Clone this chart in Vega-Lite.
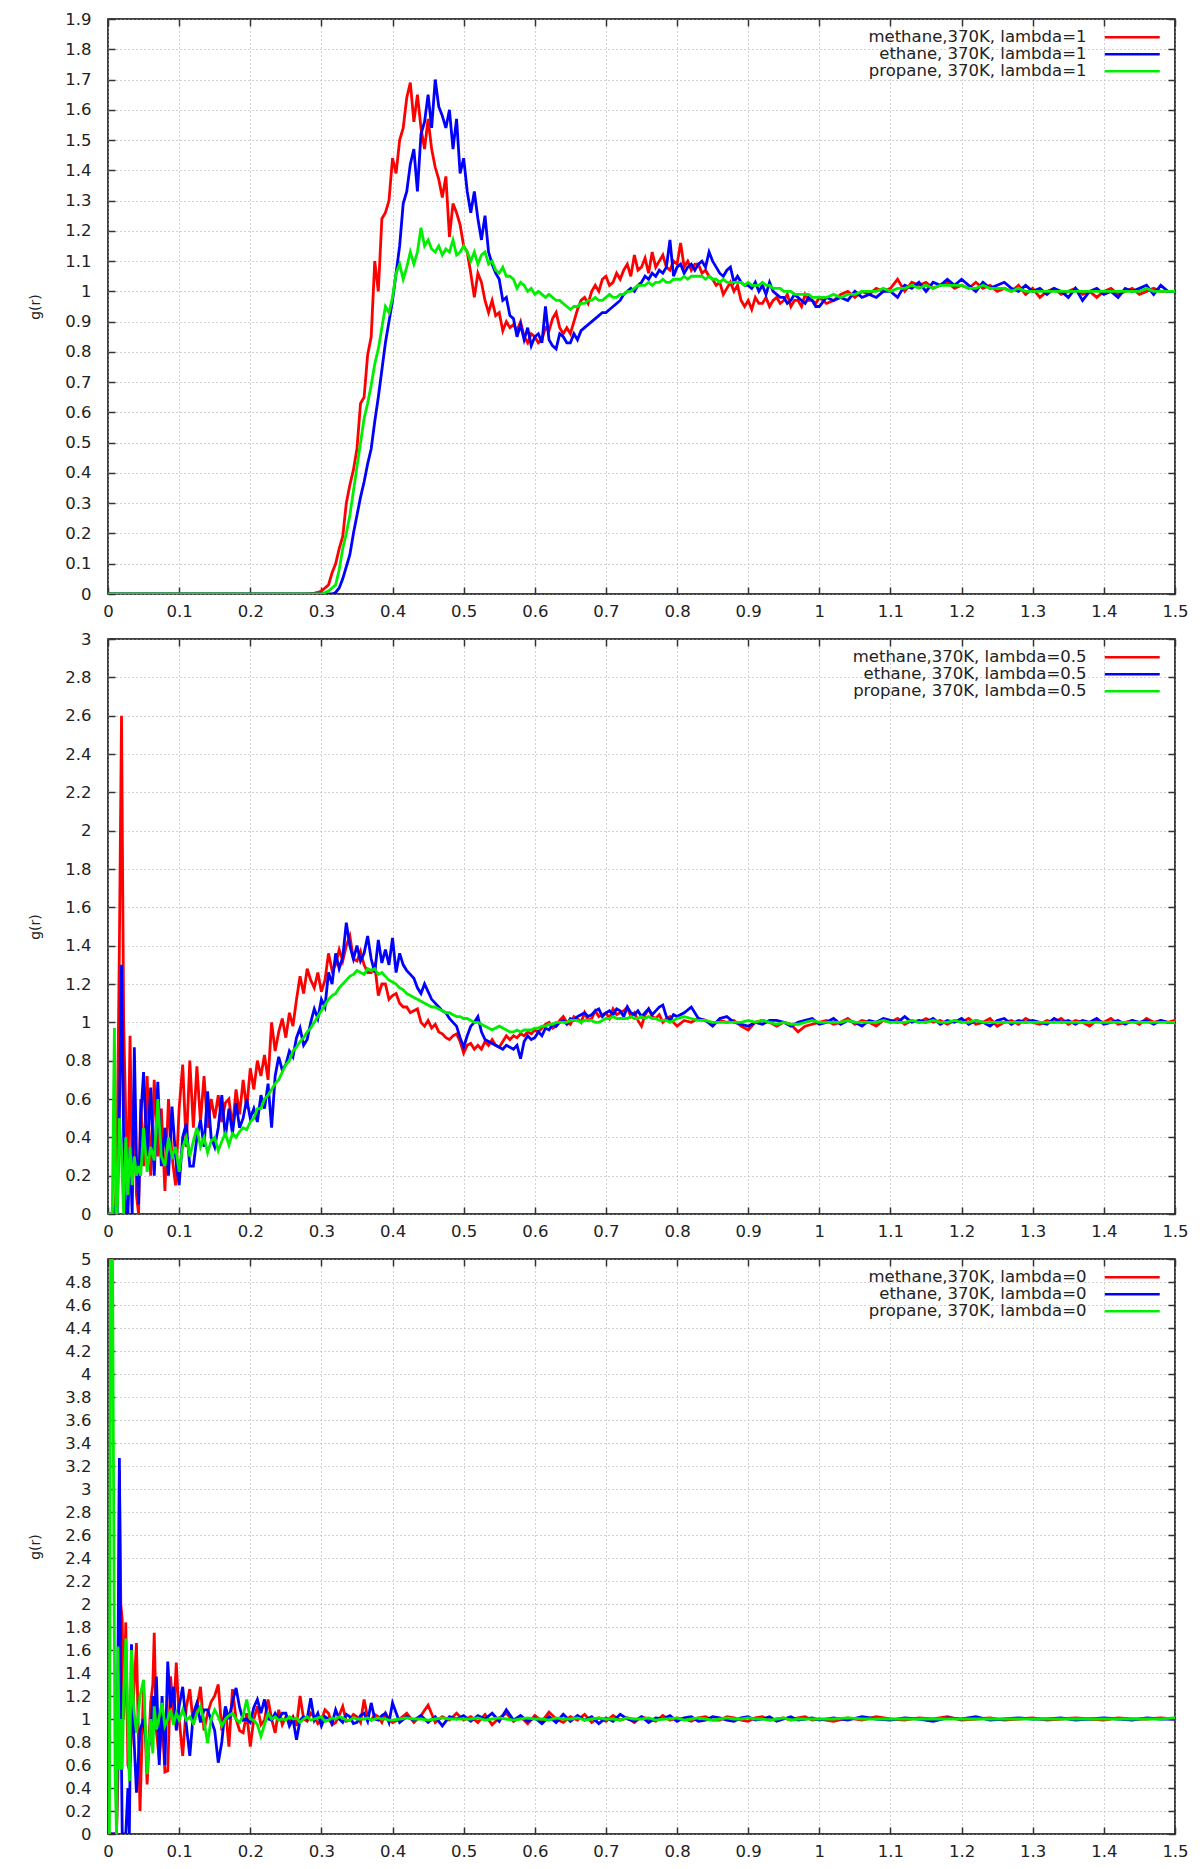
{
"$schema": "https://vega.github.io/schema/vega-lite/v6.json",
"background": "white",
"padding": {"left": 28, "top": 10, "right": 0, "bottom": 0},
"autosize": {"type": "pad"},
"spacing": 45,
"bounds": "flush",
"config": {"view": {"stroke": "#000000", "strokeWidth": 1.5}, "font": "DejaVu Sans"},
"resolve": {"scale": {"color": "independent"}},
"datasets": {
"p1": [
{"x":0,"m":0,"e":0,"p":0},{"x":0.28,"m":0,"e":0,"p":0},{"x":0.29,"m":0.003,"e":0,"p":0},{"x":0.295,"m":0.005,"e":0,"p":0},{"x":0.3,"m":0.01,"e":0,"p":0},
{"x":0.305,"m":0.02,"e":0,"p":0.005},{"x":0.31,"m":0.03,"e":0,"p":0.01},{"x":0.315,"m":0.07,"e":0,"p":0.02},{"x":0.32,"m":0.1,"e":0.005,"p":0.03},
{"x":0.325,"m":0.15,"e":0.02,"p":0.08},{"x":0.33,"m":0.19,"e":0.05,"p":0.15},{"x":0.335,"m":0.3,"e":0.09,"p":0.2},{"x":0.34,"m":0.36,"e":0.13,"p":0.26},
{"x":0.345,"m":0.41,"e":0.2,"p":0.34},{"x":0.35,"m":0.48,"e":0.26,"p":0.42},{"x":0.355,"m":0.63,"e":0.32,"p":0.5},{"x":0.36,"m":0.65,"e":0.37,"p":0.58},
{"x":0.365,"m":0.79,"e":0.43,"p":0.63},{"x":0.37,"m":0.85,"e":0.48,"p":0.69},{"x":0.375,"m":1.1,"e":0.57,"p":0.76},{"x":0.38,"m":1.0,"e":0.65,"p":0.81},
{"x":0.385,"m":1.24,"e":0.74,"p":0.88},{"x":0.39,"m":1.26,"e":0.83,"p":0.95},{"x":0.395,"m":1.3,"e":0.9,"p":0.93},{"x":0.4,"m":1.44,"e":0.97,"p":0.98},
{"x":0.405,"m":1.39,"e":1.06,"p":1.06},{"x":0.41,"m":1.5,"e":1.15,"p":1.09},{"x":0.415,"m":1.54,"e":1.29,"p":1.04},{"x":0.42,"m":1.64,"e":1.33,"p":1.08},
{"x":0.425,"m":1.69,"e":1.42,"p":1.13},{"x":0.43,"m":1.56,"e":1.47,"p":1.09},{"x":0.435,"m":1.65,"e":1.33,"p":1.13},{"x":0.44,"m":1.54,"e":1.52,"p":1.21},
{"x":0.445,"m":1.47,"e":1.56,"p":1.15},{"x":0.45,"m":1.57,"e":1.65,"p":1.17},{"x":0.455,"m":1.47,"e":1.54,"p":1.14},{"x":0.46,"m":1.41,"e":1.7,"p":1.13},
{"x":0.465,"m":1.37,"e":1.61,"p":1.15},{"x":0.47,"m":1.31,"e":1.58,"p":1.12},{"x":0.475,"m":1.38,"e":1.54,"p":1.14},{"x":0.48,"m":1.18,"e":1.6,"p":1.13},
{"x":0.485,"m":1.29,"e":1.47,"p":1.17},{"x":0.49,"m":1.26,"e":1.57,"p":1.12},{"x":0.495,"m":1.22,"e":1.39,"p":1.13},{"x":0.5,"m":1.15,"e":1.44,"p":1.15},
{"x":0.505,"m":1.13,"e":1.33,"p":1.13},{"x":0.51,"m":1.06,"e":1.26,"p":1.1},{"x":0.515,"m":0.98,"e":1.33,"p":1.13},{"x":0.52,"m":1.06,"e":1.24,"p":1.09},
{"x":0.525,"m":1.03,"e":1.17,"p":1.12},{"x":0.53,"m":0.97,"e":1.25,"p":1.13},{"x":0.535,"m":0.93,"e":1.13,"p":1.09},{"x":0.54,"m":0.97,"e":1.09,"p":1.1},
{"x":0.545,"m":0.92,"e":1.06,"p":1.07},{"x":0.55,"m":0.93,"e":1.04,"p":1.06},{"x":0.555,"m":0.87,"e":0.97,"p":1.08},{"x":0.56,"m":0.9,"e":0.98,"p":1.05},
{"x":0.565,"m":0.88,"e":0.92,"p":1.05},{"x":0.57,"m":0.89,"e":0.91,"p":1.04},{"x":0.575,"m":0.87,"e":0.85,"p":1.01},{"x":0.58,"m":0.9,"e":0.89,"p":1.03},
{"x":0.585,"m":0.85,"e":0.84,"p":1.02},{"x":0.59,"m":0.83,"e":0.88,"p":1.0},{"x":0.595,"m":0.86,"e":0.82,"p":1.01},{"x":0.6,"m":0.85,"e":0.85,"p":0.99},
{"x":0.605,"m":0.83,"e":0.86,"p":1.0},{"x":0.61,"m":0.84,"e":0.83,"p":0.99},{"x":0.615,"m":0.88,"e":0.95,"p":0.98},{"x":0.62,"m":0.87,"e":0.84,"p":0.99},
{"x":0.625,"m":0.91,"e":0.82,"p":0.98},{"x":0.63,"m":0.93,"e":0.81,"p":0.97},{"x":0.635,"m":0.88,"e":0.86,"p":0.97},{"x":0.64,"m":0.86,"e":0.85,"p":0.96},
{"x":0.645,"m":0.88,"e":0.83,"p":0.95},{"x":0.65,"m":0.86,"e":0.83,"p":0.94},{"x":0.655,"m":0.9,"e":0.86,"p":0.95},{"x":0.66,"m":0.94,"e":0.84,"p":0.95},
{"x":0.665,"m":0.97,"e":0.87,"p":0.96},{"x":0.67,"m":0.98,"e":0.88,"p":0.96},{"x":0.675,"m":0.96,"e":0.89,"p":0.97},{"x":0.68,"m":1.0,"e":0.9,"p":0.97},
{"x":0.685,"m":1.02,"e":0.91,"p":0.98},{"x":0.69,"m":1.0,"e":0.92,"p":0.97},{"x":0.695,"m":1.04,"e":0.93,"p":0.97},{"x":0.7,"m":1.05,"e":0.93,"p":0.98},
{"x":0.705,"m":1.02,"e":0.94,"p":0.99},{"x":0.71,"m":1.03,"e":0.95,"p":0.98},{"x":0.715,"m":1.06,"e":0.96,"p":0.98},{"x":0.72,"m":1.04,"e":0.97,"p":0.99},
{"x":0.725,"m":1.07,"e":0.99,"p":0.99},{"x":0.73,"m":1.09,"e":1.0,"p":1.0},{"x":0.735,"m":1.05,"e":1.01,"p":1.0},{"x":0.74,"m":1.12,"e":1.0,"p":1.01},
{"x":0.745,"m":1.07,"e":1.02,"p":1.02},{"x":0.75,"m":1.08,"e":1.03,"p":1.02},{"x":0.755,"m":1.11,"e":1.05,"p":1.02},{"x":0.76,"m":1.06,"e":1.04,"p":1.03},
{"x":0.765,"m":1.13,"e":1.06,"p":1.02},{"x":0.77,"m":1.08,"e":1.05,"p":1.03},{"x":0.775,"m":1.1,"e":1.07,"p":1.03},{"x":0.78,"m":1.12,"e":1.06,"p":1.04},
{"x":0.785,"m":1.08,"e":1.08,"p":1.03},{"x":0.79,"m":1.07,"e":1.17,"p":1.03},{"x":0.795,"m":1.1,"e":1.05,"p":1.04},{"x":0.8,"m":1.09,"e":1.08,"p":1.04},
{"x":0.805,"m":1.16,"e":1.09,"p":1.04},{"x":0.81,"m":1.08,"e":1.06,"p":1.05},{"x":0.815,"m":1.1,"e":1.08,"p":1.04},{"x":0.82,"m":1.07,"e":1.09,"p":1.05},
{"x":0.825,"m":1.09,"e":1.07,"p":1.05},{"x":0.83,"m":1.09,"e":1.09,"p":1.05},{"x":0.835,"m":1.06,"e":1.1,"p":1.05},{"x":0.84,"m":1.07,"e":1.08,"p":1.04},
{"x":0.845,"m":1.05,"e":1.13,"p":1.05},{"x":0.85,"m":1.04,"e":1.1,"p":1.04},{"x":0.855,"m":1.02,"e":1.08,"p":1.04},{"x":0.86,"m":1.03,"e":1.06,"p":1.03},
{"x":0.865,"m":0.99,"e":1.05,"p":1.04},{"x":0.87,"m":1.01,"e":1.07,"p":1.03},{"x":0.875,"m":1.03,"e":1.08,"p":1.03},{"x":0.88,"m":1.0,"e":1.03,"p":1.03},
{"x":0.885,"m":1.02,"e":1.05,"p":1.03},{"x":0.89,"m":0.97,"e":1.03,"p":1.03},{"x":0.895,"m":0.95,"e":1.02,"p":1.02},{"x":0.9,"m":0.97,"e":1.02,"p":1.03},
{"x":0.905,"m":0.94,"e":1.01,"p":1.02},{"x":0.91,"m":0.98,"e":1.03,"p":1.02},{"x":0.915,"m":0.96,"e":1.0,"p":1.02},{"x":0.92,"m":0.96,"e":1.02,"p":1.03},
{"x":0.925,"m":0.98,"e":0.99,"p":1.02},{"x":0.93,"m":0.95,"e":1.03,"p":1.02},{"x":0.935,"m":0.97,"e":1.0,"p":1.01},{"x":0.94,"m":0.98,"e":0.99,"p":1.01},
{"x":0.945,"m":0.96,"e":0.98,"p":1.01},{"x":0.95,"m":0.97,"e":0.98,"p":1.0},{"x":0.955,"m":0.99,"e":0.96,"p":1.0},{"x":0.96,"m":0.95,"e":0.97,"p":1.0},
{"x":0.965,"m":0.97,"e":0.99,"p":0.99},{"x":0.97,"m":0.97,"e":0.98,"p":0.99},{"x":0.975,"m":0.95,"e":0.97,"p":0.99},{"x":0.98,"m":0.99,"e":0.96,"p":0.99},
{"x":0.985,"m":0.97,"e":0.98,"p":0.99},{"x":0.99,"m":0.97,"e":0.97,"p":0.98},{"x":0.995,"m":0.96,"e":0.95,"p":0.98},{"x":1.0,"m":0.98,"e":0.95,"p":0.98},
{"x":1.01,"m":0.96,"e":0.98,"p":0.98},{"x":1.02,"m":0.97,"e":0.97,"p":0.99},{"x":1.03,"m":0.99,"e":0.98,"p":0.98},{"x":1.04,"m":1.0,"e":0.97,"p":0.99},
{"x":1.05,"m":0.98,"e":1.0,"p":0.99},{"x":1.06,"m":1.0,"e":0.98,"p":1.0},{"x":1.07,"m":0.99,"e":0.99,"p":1.0},{"x":1.08,"m":1.01,"e":0.98,"p":1.0},
{"x":1.09,"m":1.0,"e":1.0,"p":1.01},{"x":1.1,"m":1.01,"e":1.0,"p":1.0},{"x":1.11,"m":1.04,"e":0.98,"p":1.01},{"x":1.12,"m":1.0,"e":1.02,"p":1.01},
{"x":1.13,"m":1.03,"e":1.01,"p":1.02},{"x":1.14,"m":1.02,"e":1.03,"p":1.01},{"x":1.15,"m":1.03,"e":1.0,"p":1.02},{"x":1.16,"m":1.01,"e":1.03,"p":1.01},
{"x":1.17,"m":1.02,"e":1.02,"p":1.02},{"x":1.18,"m":1.03,"e":1.04,"p":1.02},{"x":1.19,"m":1.01,"e":1.02,"p":1.02},{"x":1.2,"m":1.02,"e":1.04,"p":1.02},
{"x":1.21,"m":1.01,"e":1.02,"p":1.01},{"x":1.22,"m":1.03,"e":1.0,"p":1.01},{"x":1.23,"m":1.01,"e":1.03,"p":1.02},{"x":1.24,"m":1.02,"e":1.01,"p":1.01},
{"x":1.25,"m":1.0,"e":1.02,"p":1.01},{"x":1.26,"m":1.01,"e":1.03,"p":1.01},{"x":1.27,"m":1.0,"e":1.01,"p":1.0},{"x":1.28,"m":1.02,"e":1.0,"p":1.01},
{"x":1.29,"m":0.99,"e":1.02,"p":1.0},{"x":1.3,"m":1.01,"e":1.0,"p":1.0},{"x":1.31,"m":0.98,"e":1.01,"p":1.0},{"x":1.32,"m":1.0,"e":0.99,"p":1.0},
{"x":1.33,"m":1.01,"e":1.01,"p":1.0},{"x":1.34,"m":0.99,"e":1.0,"p":1.0},{"x":1.35,"m":1.0,"e":0.98,"p":1.0},{"x":1.36,"m":1.01,"e":1.01,"p":1.0},
{"x":1.37,"m":0.99,"e":0.97,"p":1.0},{"x":1.38,"m":1.0,"e":1.0,"p":1.0},{"x":1.39,"m":0.98,"e":1.01,"p":1.0},{"x":1.4,"m":1.0,"e":0.99,"p":1.0},
{"x":1.41,"m":1.01,"e":1.0,"p":1.0},{"x":1.42,"m":0.99,"e":0.98,"p":1.0},{"x":1.43,"m":1.0,"e":1.01,"p":1.0},{"x":1.44,"m":1.01,"e":1.0,"p":1.0},
{"x":1.45,"m":0.99,"e":1.01,"p":1.0},{"x":1.46,"m":1.0,"e":1.02,"p":1.01},{"x":1.47,"m":1.01,"e":0.99,"p":1.0},{"x":1.48,"m":1.0,"e":1.02,"p":1.0},
{"x":1.49,"m":1.0,"e":1.0,"p":1.0},{"x":1.5,"m":1.0,"e":1.0,"p":1.0}
],
"p2": [
{"x":0,"m":0,"e":0,"p":0},{"x":0.006,"m":0,"e":0,"p":0},{"x":0.009,"m":0,"e":0,"p":0.97},{"x":0.011,"m":0.1,"e":0.05,"p":0.0},
{"x":0.013,"m":0.4,"e":0.0,"p":0.0},{"x":0.016,"m":1.4,"e":0.5,"p":0.5},{"x":0.019,"m":2.6,"e":1.3,"p":0.3},{"x":0.022,"m":1.0,"e":0.4,"p":0.0},
{"x":0.025,"m":0.5,"e":0.0,"p":0.4},{"x":0.028,"m":0.2,"e":0.0,"p":0.1},{"x":0.031,"m":0.93,"e":0.35,"p":0.35},{"x":0.034,"m":0.2,"e":0.0,"p":0.15},
{"x":0.037,"m":0.65,"e":0.87,"p":0.3},{"x":0.04,"m":0.1,"e":0.3,"p":0.2},{"x":0.043,"m":0.0,"e":0.05,"p":0.25},{"x":0.046,"m":0.6,"e":0.5,"p":0.2},
{"x":0.05,"m":0.25,"e":0.74,"p":0.45},{"x":0.055,"m":0.72,"e":0.3,"p":0.22},{"x":0.06,"m":0.2,"e":0.66,"p":0.35},{"x":0.065,"m":0.7,"e":0.2,"p":0.28},
{"x":0.07,"m":0.3,"e":0.69,"p":0.6},{"x":0.075,"m":0.55,"e":0.25,"p":0.3},{"x":0.08,"m":0.12,"e":0.45,"p":0.25},{"x":0.085,"m":0.6,"e":0.2,"p":0.4},
{"x":0.09,"m":0.3,"e":0.56,"p":0.3},{"x":0.095,"m":0.15,"e":0.3,"p":0.35},{"x":0.1,"m":0.55,"e":0.15,"p":0.22},{"x":0.105,"m":0.78,"e":0.4,"p":0.35},
{"x":0.11,"m":0.35,"e":0.47,"p":0.4},{"x":0.115,"m":0.8,"e":0.25,"p":0.3},{"x":0.12,"m":0.45,"e":0.25,"p":0.38},{"x":0.125,"m":0.77,"e":0.4,"p":0.45},
{"x":0.13,"m":0.48,"e":0.49,"p":0.35},{"x":0.135,"m":0.72,"e":0.35,"p":0.4},{"x":0.14,"m":0.45,"e":0.64,"p":0.32},{"x":0.145,"m":0.6,"e":0.4,"p":0.38},
{"x":0.15,"m":0.5,"e":0.35,"p":0.4},{"x":0.155,"m":0.62,"e":0.45,"p":0.33},{"x":0.16,"m":0.48,"e":0.62,"p":0.38},{"x":0.165,"m":0.58,"e":0.4,"p":0.42},
{"x":0.17,"m":0.6,"e":0.55,"p":0.36},{"x":0.175,"m":0.45,"e":0.42,"p":0.42},{"x":0.18,"m":0.65,"e":0.58,"p":0.4},{"x":0.185,"m":0.52,"e":0.45,"p":0.43},
{"x":0.19,"m":0.7,"e":0.5,"p":0.45},{"x":0.195,"m":0.55,"e":0.6,"p":0.44},{"x":0.2,"m":0.76,"e":0.5,"p":0.48},{"x":0.205,"m":0.65,"e":0.55,"p":0.5},
{"x":0.21,"m":0.8,"e":0.48,"p":0.55},{"x":0.215,"m":0.72,"e":0.62,"p":0.55},{"x":0.22,"m":0.83,"e":0.55,"p":0.6},{"x":0.225,"m":0.7,"e":0.68,"p":0.62},
{"x":0.23,"m":1.0,"e":0.45,"p":0.65},{"x":0.235,"m":0.85,"e":0.72,"p":0.68},{"x":0.24,"m":0.95,"e":0.82,"p":0.7},{"x":0.245,"m":1.02,"e":0.75,"p":0.74},
{"x":0.25,"m":0.92,"e":0.78,"p":0.78},{"x":0.255,"m":1.05,"e":0.85,"p":0.8},{"x":0.26,"m":0.98,"e":0.82,"p":0.85},{"x":0.265,"m":1.12,"e":0.92,"p":0.87},
{"x":0.27,"m":1.24,"e":0.97,"p":0.9},{"x":0.275,"m":1.15,"e":0.88,"p":0.92},{"x":0.28,"m":1.28,"e":0.91,"p":0.95},{"x":0.285,"m":1.22,"e":1.0,"p":0.97},
{"x":0.29,"m":1.18,"e":1.07,"p":1.0},{"x":0.295,"m":1.26,"e":1.02,"p":1.03},{"x":0.3,"m":1.16,"e":1.12,"p":1.06},{"x":0.305,"m":1.22,"e":1.08,"p":1.09},
{"x":0.31,"m":1.36,"e":1.26,"p":1.12},{"x":0.315,"m":1.27,"e":1.2,"p":1.14},{"x":0.32,"m":1.3,"e":1.36,"p":1.15},{"x":0.325,"m":1.38,"e":1.28,"p":1.18},
{"x":0.33,"m":1.32,"e":1.34,"p":1.2},{"x":0.335,"m":1.4,"e":1.52,"p":1.22},{"x":0.34,"m":1.45,"e":1.4,"p":1.24},{"x":0.345,"m":1.33,"e":1.33,"p":1.25},
{"x":0.35,"m":1.32,"e":1.4,"p":1.27},{"x":0.355,"m":1.37,"e":1.32,"p":1.26},{"x":0.36,"m":1.3,"e":1.36,"p":1.25},{"x":0.365,"m":1.26,"e":1.45,"p":1.28},
{"x":0.37,"m":1.26,"e":1.33,"p":1.27},{"x":0.375,"m":1.3,"e":1.26,"p":1.28},{"x":0.38,"m":1.14,"e":1.43,"p":1.25},{"x":0.385,"m":1.2,"e":1.31,"p":1.26},
{"x":0.39,"m":1.2,"e":1.38,"p":1.24},{"x":0.395,"m":1.12,"e":1.3,"p":1.22},{"x":0.4,"m":1.14,"e":1.44,"p":1.21},{"x":0.405,"m":1.15,"e":1.26,"p":1.2},
{"x":0.41,"m":1.1,"e":1.36,"p":1.18},{"x":0.415,"m":1.08,"e":1.3,"p":1.17},{"x":0.42,"m":1.08,"e":1.27,"p":1.15},{"x":0.425,"m":1.05,"e":1.25,"p":1.14},
{"x":0.43,"m":1.06,"e":1.23,"p":1.13},{"x":0.435,"m":1.07,"e":1.18,"p":1.12},{"x":0.44,"m":1.0,"e":1.15,"p":1.11},{"x":0.445,"m":0.98,"e":1.2,"p":1.1},
{"x":0.45,"m":1.01,"e":1.16,"p":1.09},{"x":0.455,"m":0.97,"e":1.12,"p":1.08},{"x":0.46,"m":0.99,"e":1.1,"p":1.08},{"x":0.465,"m":0.95,"e":1.08,"p":1.07},
{"x":0.47,"m":0.94,"e":1.06,"p":1.06},{"x":0.475,"m":0.92,"e":1.05,"p":1.05},{"x":0.48,"m":0.91,"e":1.02,"p":1.05},{"x":0.485,"m":0.93,"e":1.0,"p":1.04},
{"x":0.49,"m":0.94,"e":0.98,"p":1.03},{"x":0.495,"m":0.9,"e":0.92,"p":1.03},{"x":0.5,"m":0.84,"e":0.87,"p":1.02},{"x":0.505,"m":0.88,"e":0.93,"p":1.02},
{"x":0.51,"m":0.89,"e":0.98,"p":1.01},{"x":0.515,"m":0.86,"e":1.0,"p":1.0},{"x":0.52,"m":0.88,"e":1.03,"p":1.0},{"x":0.525,"m":0.86,"e":0.95,"p":0.99},
{"x":0.53,"m":0.9,"e":0.91,"p":0.98},{"x":0.535,"m":0.88,"e":0.9,"p":0.97},{"x":0.54,"m":0.91,"e":0.89,"p":0.96},{"x":0.545,"m":0.88,"e":0.88,"p":0.97},
{"x":0.55,"m":0.87,"e":0.87,"p":0.98},{"x":0.555,"m":0.9,"e":0.86,"p":0.97},{"x":0.56,"m":0.93,"e":0.88,"p":0.96},{"x":0.565,"m":0.91,"e":0.87,"p":0.95},
{"x":0.57,"m":0.93,"e":0.86,"p":0.95},{"x":0.575,"m":0.92,"e":0.88,"p":0.96},{"x":0.58,"m":0.94,"e":0.81,"p":0.95},{"x":0.585,"m":0.93,"e":0.9,"p":0.96},
{"x":0.59,"m":0.95,"e":0.93,"p":0.96},{"x":0.595,"m":0.94,"e":0.91,"p":0.96},{"x":0.6,"m":0.96,"e":0.92,"p":0.97},{"x":0.605,"m":0.95,"e":0.95,"p":0.97},
{"x":0.61,"m":0.97,"e":0.93,"p":0.98},{"x":0.615,"m":0.99,"e":0.97,"p":0.98},{"x":0.62,"m":1.0,"e":0.96,"p":0.99},{"x":0.625,"m":0.97,"e":0.99,"p":0.99},
{"x":0.63,"m":0.98,"e":0.98,"p":1.0},{"x":0.635,"m":1.01,"e":1.0,"p":1.0},{"x":0.64,"m":1.03,"e":1.01,"p":1.0},{"x":0.645,"m":1.0,"e":0.99,"p":1.0},
{"x":0.65,"m":0.99,"e":1.02,"p":1.01},{"x":0.655,"m":1.03,"e":1.01,"p":1.01},{"x":0.66,"m":1.02,"e":1.03,"p":1.01},{"x":0.665,"m":1.0,"e":1.04,"p":1.0},
{"x":0.67,"m":1.05,"e":1.05,"p":1.01},{"x":0.675,"m":1.01,"e":1.03,"p":1.01},{"x":0.68,"m":1.02,"e":1.04,"p":1.01},{"x":0.685,"m":1.06,"e":1.06,"p":1.0},
{"x":0.69,"m":1.03,"e":1.07,"p":1.0},{"x":0.695,"m":1.04,"e":1.03,"p":1.01},{"x":0.7,"m":1.05,"e":1.05,"p":1.02},{"x":0.705,"m":1.02,"e":1.06,"p":1.02},
{"x":0.71,"m":1.07,"e":1.04,"p":1.03},{"x":0.715,"m":1.04,"e":1.07,"p":1.02},{"x":0.72,"m":1.05,"e":1.06,"p":1.02},{"x":0.725,"m":1.06,"e":1.03,"p":1.02},
{"x":0.73,"m":1.08,"e":1.08,"p":1.02},{"x":0.735,"m":1.03,"e":1.05,"p":1.03},{"x":0.74,"m":1.05,"e":1.04,"p":1.02},{"x":0.745,"m":1.01,"e":1.06,"p":1.02},
{"x":0.75,"m":0.98,"e":1.03,"p":1.03},{"x":0.755,"m":1.04,"e":1.05,"p":1.02},{"x":0.76,"m":1.07,"e":1.07,"p":1.03},{"x":0.765,"m":1.03,"e":1.04,"p":1.02},
{"x":0.77,"m":1.02,"e":1.06,"p":1.02},{"x":0.775,"m":1.04,"e":1.08,"p":1.01},{"x":0.78,"m":1.0,"e":1.09,"p":1.01},{"x":0.785,"m":1.02,"e":1.03,"p":1.01},
{"x":0.79,"m":1.03,"e":1.01,"p":1.0},{"x":0.795,"m":1.0,"e":1.04,"p":1.01},{"x":0.8,"m":0.98,"e":1.03,"p":1.02},{"x":0.81,"m":1.01,"e":1.05,"p":1.03},
{"x":0.82,"m":1.0,"e":1.08,"p":1.02},{"x":0.83,"m":1.02,"e":1.02,"p":1.01},{"x":0.84,"m":1.01,"e":1.01,"p":1.01},{"x":0.85,"m":0.99,"e":0.98,"p":1.0},
{"x":0.86,"m":1.01,"e":1.02,"p":1.0},{"x":0.87,"m":1.0,"e":1.03,"p":1.0},{"x":0.88,"m":1.01,"e":1.0,"p":1.0},{"x":0.89,"m":0.98,"e":0.99,"p":1.0},
{"x":0.9,"m":0.96,"e":0.98,"p":1.01},{"x":0.91,"m":1.0,"e":1.0,"p":1.0},{"x":0.92,"m":1.01,"e":0.99,"p":1.01},{"x":0.93,"m":1.0,"e":1.01,"p":1.0},
{"x":0.94,"m":0.98,"e":1.01,"p":0.99},{"x":0.95,"m":1.0,"e":1.0,"p":1.0},{"x":0.96,"m":0.99,"e":0.98,"p":0.99},{"x":0.97,"m":0.95,"e":1.0,"p":0.99},
{"x":0.98,"m":0.98,"e":1.01,"p":1.0},{"x":0.99,"m":0.99,"e":1.02,"p":1.01},{"x":1.0,"m":1.0,"e":0.99,"p":1.0},{"x":1.01,"m":1.01,"e":1.0,"p":1.0},
{"x":1.02,"m":0.99,"e":1.02,"p":1.0},{"x":1.03,"m":1.0,"e":0.99,"p":1.0},{"x":1.04,"m":1.02,"e":1.01,"p":1.01},{"x":1.05,"m":0.99,"e":1.0,"p":1.0},
{"x":1.06,"m":1.01,"e":0.98,"p":1.0},{"x":1.07,"m":1.0,"e":1.01,"p":1.0},{"x":1.08,"m":0.98,"e":1.0,"p":1.0},{"x":1.09,"m":1.01,"e":1.02,"p":1.01},
{"x":1.1,"m":1.0,"e":1.01,"p":1.0},{"x":1.11,"m":1.02,"e":1.0,"p":1.0},{"x":1.12,"m":0.99,"e":1.03,"p":1.0},{"x":1.13,"m":1.01,"e":1.0,"p":1.01},
{"x":1.14,"m":1.0,"e":1.01,"p":1.0},{"x":1.15,"m":1.02,"e":1.0,"p":1.0},{"x":1.16,"m":1.0,"e":1.02,"p":1.01},{"x":1.17,"m":1.01,"e":0.99,"p":1.0},
{"x":1.18,"m":0.99,"e":1.01,"p":1.0},{"x":1.19,"m":1.01,"e":1.0,"p":1.01},{"x":1.2,"m":1.0,"e":1.02,"p":1.0},{"x":1.21,"m":1.02,"e":0.99,"p":1.0},
{"x":1.22,"m":0.99,"e":1.01,"p":1.01},{"x":1.23,"m":1.0,"e":1.0,"p":1.0},{"x":1.24,"m":1.02,"e":0.98,"p":1.0},{"x":1.25,"m":0.98,"e":1.01,"p":1.0},
{"x":1.26,"m":1.0,"e":1.02,"p":1.0},{"x":1.27,"m":1.01,"e":0.99,"p":1.0},{"x":1.28,"m":0.99,"e":1.01,"p":1.0},{"x":1.29,"m":1.02,"e":1.0,"p":1.0},
{"x":1.3,"m":1.0,"e":1.01,"p":1.0},{"x":1.31,"m":0.99,"e":1.0,"p":1.0},{"x":1.32,"m":1.01,"e":0.99,"p":1.0},{"x":1.33,"m":1.0,"e":1.02,"p":1.0},
{"x":1.34,"m":1.02,"e":1.0,"p":1.0},{"x":1.35,"m":0.99,"e":1.01,"p":1.0},{"x":1.36,"m":1.01,"e":0.99,"p":1.0},{"x":1.37,"m":1.0,"e":1.01,"p":1.0},
{"x":1.38,"m":0.98,"e":1.0,"p":1.0},{"x":1.39,"m":1.01,"e":1.02,"p":1.0},{"x":1.4,"m":1.0,"e":0.99,"p":1.0},{"x":1.41,"m":1.02,"e":1.0,"p":1.0},
{"x":1.42,"m":0.99,"e":1.01,"p":1.0},{"x":1.43,"m":1.0,"e":0.99,"p":1.0},{"x":1.44,"m":1.01,"e":1.01,"p":1.0},{"x":1.45,"m":0.99,"e":1.0,"p":1.0},
{"x":1.46,"m":1.02,"e":1.01,"p":1.0},{"x":1.47,"m":1.0,"e":0.99,"p":1.0},{"x":1.48,"m":1.01,"e":1.01,"p":1.0},{"x":1.49,"m":1.0,"e":1.0,"p":1.0},{"x":1.5,"m":1.01,"e":1.0,"p":1.0}
],
"p3": [
{"x":0,"m":0,"e":0,"p":0},{"x":0.002,"m":0,"e":0,"p":0},{"x":0.004,"m":0,"e":0,"p":6},{"x":0.006,"m":0,"e":0,"p":5.5},
{"x":0.008,"m":0,"e":0,"p":2.8},{"x":0.01,"m":0,"e":0,"p":0.5},{"x":0.012,"m":0,"e":0,"p":0},{"x":0.014,"m":0.5,"e":1.5,"p":1.63},
{"x":0.016,"m":3.16,"e":3.27,"p":0.56},{"x":0.018,"m":2.0,"e":1.2,"p":1.0},{"x":0.02,"m":1.86,"e":0,"p":0.56},{"x":0.022,"m":1.0,"e":0,"p":1.2},
{"x":0.025,"m":1.84,"e":0,"p":1.7},{"x":0.028,"m":0.6,"e":0.4,"p":1.0},{"x":0.03,"m":0.56,"e":0,"p":0.46},{"x":0.033,"m":0.85,"e":1.65,"p":1.6},
{"x":0.036,"m":1.2,"e":0.9,"p":1.1},{"x":0.04,"m":1.66,"e":0.36,"p":0.88},{"x":0.045,"m":0.2,"e":0.9,"p":1.2},{"x":0.05,"m":1.3,"e":1.0,"p":1.34},
{"x":0.055,"m":0.43,"e":0.72,"p":0.52},{"x":0.06,"m":1.14,"e":0.82,"p":1.0},{"x":0.063,"m":1.3,"e":1.2,"p":0.7},{"x":0.065,"m":1.75,"e":0.91,"p":1.11},
{"x":0.068,"m":0.9,"e":1.37,"p":0.91},{"x":0.072,"m":0.65,"e":0.6,"p":1.02},{"x":0.076,"m":1.0,"e":1.2,"p":1.14},{"x":0.08,"m":0.54,"e":0.6,"p":0.94},
{"x":0.084,"m":0.55,"e":1.5,"p":1.0},{"x":0.088,"m":1.37,"e":1.1,"p":1.08},{"x":0.092,"m":1.0,"e":1.28,"p":0.95},{"x":0.096,"m":1.49,"e":0.9,"p":1.05},
{"x":0.1,"m":1.0,"e":1.11,"p":0.99},{"x":0.105,"m":0.68,"e":1.28,"p":1.08},{"x":0.11,"m":1.1,"e":0.95,"p":0.99},{"x":0.115,"m":1.26,"e":0.68,"p":1.02},
{"x":0.12,"m":0.95,"e":1.05,"p":0.96},{"x":0.125,"m":1.1,"e":1.14,"p":1.05},{"x":0.13,"m":1.28,"e":0.97,"p":1.11},{"x":0.135,"m":0.9,"e":1.08,"p":0.98},
{"x":0.14,"m":1.05,"e":1.08,"p":0.79},{"x":0.145,"m":1.15,"e":0.99,"p":1.0},{"x":0.15,"m":1.2,"e":0.9,"p":1.08},{"x":0.155,"m":1.3,"e":0.62,"p":1.02},
{"x":0.16,"m":0.9,"e":0.8,"p":0.94},{"x":0.165,"m":1.1,"e":1.11,"p":1.0},{"x":0.17,"m":0.76,"e":1.0,"p":1.03},{"x":0.175,"m":1.26,"e":1.15,"p":1.05},
{"x":0.18,"m":1.0,"e":1.27,"p":1.0},{"x":0.185,"m":0.9,"e":1.1,"p":0.97},{"x":0.19,"m":0.88,"e":0.99,"p":1.03},{"x":0.195,"m":1.05,"e":1.0,"p":1.17},
{"x":0.2,"m":0.76,"e":0.97,"p":1.0},{"x":0.205,"m":1.0,"e":1.1,"p":0.99},{"x":0.21,"m":1.11,"e":1.17,"p":0.95},{"x":0.215,"m":0.95,"e":1.05,"p":0.85},
{"x":0.22,"m":0.99,"e":1.17,"p":0.95},{"x":0.225,"m":1.17,"e":1.0,"p":1.05},{"x":0.23,"m":1.0,"e":0.99,"p":1.0},{"x":0.235,"m":0.88,"e":1.05,"p":1.02},
{"x":0.24,"m":1.08,"e":1.0,"p":0.99},{"x":0.245,"m":0.95,"e":1.05,"p":1.0},{"x":0.25,"m":1.02,"e":1.05,"p":0.99},{"x":0.255,"m":0.97,"e":0.94,"p":1.02},
{"x":0.26,"m":1.02,"e":1.0,"p":1.0},{"x":0.265,"m":0.94,"e":0.82,"p":1.01},{"x":0.27,"m":1.2,"e":0.99,"p":0.97},{"x":0.275,"m":1.0,"e":1.02,"p":1.0},
{"x":0.28,"m":0.98,"e":1.0,"p":1.02},{"x":0.285,"m":1.05,"e":1.18,"p":0.99},{"x":0.29,"m":1.02,"e":0.99,"p":1.0},{"x":0.295,"m":0.96,"e":1.05,"p":1.01},
{"x":0.3,"m":0.99,"e":0.94,"p":1.02},{"x":0.305,"m":1.08,"e":1.02,"p":0.98},{"x":0.31,"m":1.05,"e":1.0,"p":0.99},{"x":0.315,"m":0.95,"e":0.96,"p":1.01},
{"x":0.32,"m":0.97,"e":1.08,"p":1.0},{"x":0.325,"m":1.03,"e":1.0,"p":1.02},{"x":0.33,"m":1.11,"e":0.97,"p":1.01},{"x":0.335,"m":0.98,"e":1.04,"p":0.99},
{"x":0.34,"m":0.99,"e":1.02,"p":0.99},{"x":0.345,"m":1.04,"e":0.96,"p":1.01},{"x":0.35,"m":1.02,"e":0.97,"p":1.0},{"x":0.355,"m":0.97,"e":1.03,"p":1.0},
{"x":0.36,"m":1.17,"e":1.05,"p":1.0},{"x":0.365,"m":1.01,"e":0.98,"p":1.01},{"x":0.37,"m":0.99,"e":1.14,"p":0.99},{"x":0.375,"m":1.04,"e":1.0,"p":1.0},
{"x":0.38,"m":1.02,"e":0.99,"p":1.01},{"x":0.385,"m":0.97,"e":1.03,"p":1.0},{"x":0.39,"m":1.05,"e":1.05,"p":1.0},{"x":0.395,"m":1.0,"e":0.97,"p":0.99},
{"x":0.4,"m":0.97,"e":1.14,"p":0.99},{"x":0.41,"m":1.0,"e":0.97,"p":1.0},{"x":0.42,"m":1.05,"e":1.02,"p":1.01},
{"x":0.43,"m":0.97,"e":0.99,"p":1.0},{"x":0.44,"m":1.03,"e":1.03,"p":1.0},{"x":0.45,"m":1.12,"e":0.97,"p":0.99},{"x":0.46,"m":0.97,"e":1.02,"p":1.0},
{"x":0.47,"m":1.02,"e":0.94,"p":1.01},{"x":0.48,"m":0.99,"e":1.02,"p":1.0},{"x":0.49,"m":1.05,"e":1.0,"p":1.0},{"x":0.5,"m":0.99,"e":1.03,"p":1.0},
{"x":0.51,"m":1.02,"e":0.98,"p":1.0},{"x":0.52,"m":0.97,"e":1.03,"p":1.01},{"x":0.53,"m":1.04,"e":1.0,"p":0.99},{"x":0.54,"m":0.95,"e":1.05,"p":1.0},
{"x":0.55,"m":1.01,"e":0.98,"p":1.01},{"x":0.56,"m":1.05,"e":1.08,"p":1.0},{"x":0.57,"m":0.98,"e":0.99,"p":0.99},{"x":0.58,"m":1.02,"e":1.03,"p":1.0},
{"x":0.59,"m":0.96,"e":0.98,"p":1.01},{"x":0.6,"m":1.03,"e":1.01,"p":1.0},{"x":0.61,"m":0.98,"e":0.96,"p":1.0},{"x":0.62,"m":1.06,"e":1.02,"p":0.99},
{"x":0.63,"m":1.0,"e":0.97,"p":1.01},{"x":0.64,"m":0.97,"e":1.04,"p":1.0},{"x":0.65,"m":1.02,"e":0.98,"p":1.0},{"x":0.66,"m":0.99,"e":1.03,"p":1.01},
{"x":0.67,"m":1.04,"e":0.99,"p":0.99},{"x":0.68,"m":0.97,"e":1.02,"p":1.0},{"x":0.69,"m":1.01,"e":0.96,"p":1.01},{"x":0.7,"m":0.98,"e":1.01,"p":1.0},
{"x":0.71,"m":1.03,"e":0.98,"p":1.0},{"x":0.72,"m":0.99,"e":1.04,"p":0.99},{"x":0.73,"m":1.01,"e":1.0,"p":1.01},{"x":0.74,"m":0.97,"e":0.98,"p":1.0},
{"x":0.75,"m":1.02,"e":1.02,"p":1.0},{"x":0.76,"m":1.0,"e":0.97,"p":1.01},{"x":0.77,"m":0.98,"e":1.01,"p":0.99},{"x":0.78,"m":1.03,"e":1.0,"p":1.0},
{"x":0.79,"m":0.99,"e":1.03,"p":1.0},{"x":0.8,"m":1.01,"e":0.98,"p":1.01},{"x":0.81,"m":1.0,"e":1.01,"p":0.99},{"x":0.82,"m":0.98,"e":1.02,"p":1.0},
{"x":0.83,"m":1.01,"e":0.98,"p":1.01},{"x":0.84,"m":1.02,"e":0.99,"p":1.0},{"x":0.85,"m":0.99,"e":1.02,"p":0.99},{"x":0.86,"m":0.99,"e":1.01,"p":1.0},
{"x":0.87,"m":1.02,"e":0.99,"p":1.01},{"x":0.88,"m":1.01,"e":0.98,"p":1.0},{"x":0.89,"m":0.99,"e":1.01,"p":1.0},{"x":0.9,"m":0.98,"e":1.02,"p":1.01},
{"x":0.91,"m":1.01,"e":0.99,"p":1.0},{"x":0.92,"m":1.02,"e":1.0,"p":1.0},{"x":0.93,"m":0.99,"e":1.02,"p":0.99},{"x":0.94,"m":1.0,"e":0.98,"p":1.0},
{"x":0.95,"m":1.01,"e":1.0,"p":1.01},{"x":0.96,"m":0.99,"e":1.02,"p":0.99},{"x":0.97,"m":1.01,"e":0.99,"p":1.0},{"x":0.98,"m":1.02,"e":1.0,"p":1.0},
{"x":0.99,"m":0.99,"e":1.01,"p":1.0},{"x":1.0,"m":1.0,"e":0.99,"p":1.0},
{"x":1.02,"m":0.98,"e":1.01,"p":1.0},{"x":1.04,"m":1.01,"e":0.99,"p":1.01},{"x":1.06,"m":0.99,"e":1.02,"p":1.0},{"x":1.08,"m":1.02,"e":1.0,"p":1.0},
{"x":1.1,"m":1.0,"e":0.99,"p":1.0},{"x":1.12,"m":0.99,"e":1.01,"p":1.0},{"x":1.14,"m":1.01,"e":1.0,"p":1.0},{"x":1.16,"m":1.0,"e":0.98,"p":1.0},
{"x":1.18,"m":1.02,"e":1.01,"p":1.0},{"x":1.2,"m":0.99,"e":1.0,"p":1.0},{"x":1.22,"m":1.0,"e":1.02,"p":1.0},{"x":1.24,"m":1.01,"e":0.99,"p":1.0},
{"x":1.26,"m":0.99,"e":1.0,"p":1.0},{"x":1.28,"m":1.0,"e":1.01,"p":1.0},{"x":1.3,"m":1.01,"e":1.0,"p":1.0},{"x":1.32,"m":0.99,"e":1.0,"p":1.0},
{"x":1.34,"m":1.0,"e":1.01,"p":1.0},{"x":1.36,"m":1.01,"e":0.99,"p":1.0},{"x":1.38,"m":1.0,"e":1.0,"p":1.0},{"x":1.4,"m":0.99,"e":1.01,"p":1.0},
{"x":1.42,"m":1.01,"e":1.0,"p":1.0},{"x":1.44,"m":1.0,"e":0.99,"p":1.0},{"x":1.46,"m":1.0,"e":1.01,"p":1.0},{"x":1.48,"m":1.01,"e":1.0,"p":1.0},{"x":1.5,"m":1.0,"e":1.0,"p":1.01}
]
},
"vconcat": [
{
"width": 1067, "height": 575,
"data": {"name": "p1"},
"transform": [{"fold": ["m", "e", "p"], "as": ["k", "g"]}],
"layer": [
{"mark": {"type": "line", "strokeWidth": 2.8, "clip": true},
"encoding": {
"x": {"field": "x", "type": "quantitative", "scale": {"domain": [0, 1.5], "nice": false, "zero": false},
"axis": {"orient": "bottom", "values": [0,0.1,0.2,0.3,0.4,0.5,0.6,0.7,0.8,0.9,1,1.1,1.2,1.3,1.4,1.5], "format": "~g", "title": null, "domain": false, "grid": true, "gridColor": "#a8a8a8", "gridDash": [1, 3], "tickSize": -7, "tickColor": "#333333", "tickWidth": 1.5, "labelPadding": 16, "labelFont": "DejaVu Sans", "labelFontSize": 16.5, "labelColor": "#222222", "labelFlush": false, "labelOverlap": false}},
"y": {"field": "g", "type": "quantitative", "scale": {"domain": [0, 1.9], "nice": false},
"axis": {"orient": "left", "values": [0,0.1,0.2,0.3,0.4,0.5,0.6,0.7,0.8,0.9,1,1.1,1.2,1.3,1.4,1.5,1.6,1.7,1.8,1.9], "format": "~g", "title": "g(r)", "titleFont": "DejaVu Sans", "titleFontSize": 14, "titleFontWeight": "normal", "titleColor": "#222222", "titlePadding": 22, "domain": false, "grid": true, "gridColor": "#a8a8a8", "gridDash": [1, 3], "tickSize": -7, "tickColor": "#333333", "tickWidth": 1.5, "labelPadding": 24, "labelFont": "DejaVu Sans", "labelFontSize": 16.5, "labelColor": "#222222", "labelFlush": false, "labelOverlap": false}},
"color": {"field": "k", "type": "nominal", "scale": {"domain": ["m", "e", "p"], "range": ["#ff0000", "#0000ff", "#00ee00"]},
"legend": {"orient": "top-right", "title": null, "offset": 10, "padding": 0, "symbolType": "M-4.23,0H4.23", "symbolSize": 169, "symbolStrokeWidth": 2.5, "labelFont": "DejaVu Sans", "labelFontSize": 16.5, "labelColor": "#222222", "labelAlign": "right", "labelOffset": -54, "labelLimit": 0, "rowPadding": 0,
"labelExpr": "datum.label == 'm' ? 'methane,370K, lambda=1' : datum.label == 'e' ? 'ethane, 370K, lambda=1' : 'propane, 370K, lambda=1'"}}
}},
{"transform": [{"filter": "datum.x == 0"}],
"mark": {"type": "point", "opacity": 0, "size": 1},
"encoding": {
"x": {"field": "x", "type": "quantitative", "scale": {"domain": [0, 1.5], "nice": false, "zero": false},
"axis": {"orient": "top", "values": [0,0.1,0.2,0.3,0.4,0.5,0.6,0.7,0.8,0.9,1,1.1,1.2,1.3,1.4,1.5], "labels": false, "title": null, "domain": false, "grid": false, "tickSize": -7, "tickColor": "#333333", "tickWidth": 1.5}},
"y": {"field": "g", "type": "quantitative", "scale": {"domain": [0, 1.9], "nice": false},
"axis": {"orient": "right", "values": [0,0.1,0.2,0.3,0.4,0.5,0.6,0.7,0.8,0.9,1,1.1,1.2,1.3,1.4,1.5,1.6,1.7,1.8,1.9], "labels": false, "title": null, "domain": false, "grid": false, "tickSize": -7, "tickColor": "#333333", "tickWidth": 1.5}}
}}
],
"resolve": {"axis": {"x": "independent", "y": "independent"}}
},
{
"width": 1067, "height": 575,
"data": {"name": "p2"},
"transform": [{"fold": ["m", "e", "p"], "as": ["k", "g"]}],
"layer": [
{"mark": {"type": "line", "strokeWidth": 2.8, "clip": true},
"encoding": {
"x": {"field": "x", "type": "quantitative", "scale": {"domain": [0, 1.5], "nice": false, "zero": false},
"axis": {"orient": "bottom", "values": [0,0.1,0.2,0.3,0.4,0.5,0.6,0.7,0.8,0.9,1,1.1,1.2,1.3,1.4,1.5], "format": "~g", "title": null, "domain": false, "grid": true, "gridColor": "#a8a8a8", "gridDash": [1, 3], "tickSize": -7, "tickColor": "#333333", "tickWidth": 1.5, "labelPadding": 16, "labelFont": "DejaVu Sans", "labelFontSize": 16.5, "labelColor": "#222222", "labelFlush": false, "labelOverlap": false}},
"y": {"field": "g", "type": "quantitative", "scale": {"domain": [0, 3], "nice": false},
"axis": {"orient": "left", "values": [0,0.2,0.4,0.6,0.8,1,1.2,1.4,1.6,1.8,2,2.2,2.4,2.6,2.8,3], "format": "~g", "title": "g(r)", "titleFont": "DejaVu Sans", "titleFontSize": 14, "titleFontWeight": "normal", "titleColor": "#222222", "titlePadding": 22, "domain": false, "grid": true, "gridColor": "#a8a8a8", "gridDash": [1, 3], "tickSize": -7, "tickColor": "#333333", "tickWidth": 1.5, "labelPadding": 24, "labelFont": "DejaVu Sans", "labelFontSize": 16.5, "labelColor": "#222222", "labelFlush": false, "labelOverlap": false}},
"color": {"field": "k", "type": "nominal", "scale": {"domain": ["m", "e", "p"], "range": ["#ff0000", "#0000ff", "#00ee00"]},
"legend": {"orient": "top-right", "title": null, "offset": 10, "padding": 0, "symbolType": "M-4.23,0H4.23", "symbolSize": 169, "symbolStrokeWidth": 2.5, "labelFont": "DejaVu Sans", "labelFontSize": 16.5, "labelColor": "#222222", "labelAlign": "right", "labelOffset": -54, "labelLimit": 0, "rowPadding": 0,
"labelExpr": "datum.label == 'm' ? 'methane,370K, lambda=0.5' : datum.label == 'e' ? 'ethane, 370K, lambda=0.5' : 'propane, 370K, lambda=0.5'"}}
}},
{"transform": [{"filter": "datum.x == 0"}],
"mark": {"type": "point", "opacity": 0, "size": 1},
"encoding": {
"x": {"field": "x", "type": "quantitative", "scale": {"domain": [0, 1.5], "nice": false, "zero": false},
"axis": {"orient": "top", "values": [0,0.1,0.2,0.3,0.4,0.5,0.6,0.7,0.8,0.9,1,1.1,1.2,1.3,1.4,1.5], "labels": false, "title": null, "domain": false, "grid": false, "tickSize": -7, "tickColor": "#333333", "tickWidth": 1.5}},
"y": {"field": "g", "type": "quantitative", "scale": {"domain": [0, 3], "nice": false},
"axis": {"orient": "right", "values": [0,0.2,0.4,0.6,0.8,1,1.2,1.4,1.6,1.8,2,2.2,2.4,2.6,2.8,3], "labels": false, "title": null, "domain": false, "grid": false, "tickSize": -7, "tickColor": "#333333", "tickWidth": 1.5}}
}}
],
"resolve": {"axis": {"x": "independent", "y": "independent"}}
},
{
"width": 1067, "height": 575,
"data": {"name": "p3"},
"transform": [{"fold": ["m", "e", "p"], "as": ["k", "g"]}],
"layer": [
{"mark": {"type": "line", "strokeWidth": 2.8, "clip": true},
"encoding": {
"x": {"field": "x", "type": "quantitative", "scale": {"domain": [0, 1.5], "nice": false, "zero": false},
"axis": {"orient": "bottom", "values": [0,0.1,0.2,0.3,0.4,0.5,0.6,0.7,0.8,0.9,1,1.1,1.2,1.3,1.4,1.5], "format": "~g", "title": null, "domain": false, "grid": true, "gridColor": "#a8a8a8", "gridDash": [1, 3], "tickSize": -7, "tickColor": "#333333", "tickWidth": 1.5, "labelPadding": 16, "labelFont": "DejaVu Sans", "labelFontSize": 16.5, "labelColor": "#222222", "labelFlush": false, "labelOverlap": false}},
"y": {"field": "g", "type": "quantitative", "scale": {"domain": [0, 5], "nice": false},
"axis": {"orient": "left", "values": [0,0.2,0.4,0.6,0.8,1,1.2,1.4,1.6,1.8,2,2.2,2.4,2.6,2.8,3,3.2,3.4,3.6,3.8,4,4.2,4.4,4.6,4.8,5], "format": "~g", "title": "g(r)", "titleFont": "DejaVu Sans", "titleFontSize": 14, "titleFontWeight": "normal", "titleColor": "#222222", "titlePadding": 22, "domain": false, "grid": true, "gridColor": "#a8a8a8", "gridDash": [1, 3], "tickSize": -7, "tickColor": "#333333", "tickWidth": 1.5, "labelPadding": 24, "labelFont": "DejaVu Sans", "labelFontSize": 16.5, "labelColor": "#222222", "labelFlush": false, "labelOverlap": false}},
"color": {"field": "k", "type": "nominal", "scale": {"domain": ["m", "e", "p"], "range": ["#ff0000", "#0000ff", "#00ee00"]},
"legend": {"orient": "top-right", "title": null, "offset": 10, "padding": 0, "symbolType": "M-4.23,0H4.23", "symbolSize": 169, "symbolStrokeWidth": 2.5, "labelFont": "DejaVu Sans", "labelFontSize": 16.5, "labelColor": "#222222", "labelAlign": "right", "labelOffset": -54, "labelLimit": 0, "rowPadding": 0,
"labelExpr": "datum.label == 'm' ? 'methane,370K, lambda=0' : datum.label == 'e' ? 'ethane, 370K, lambda=0' : 'propane, 370K, lambda=0'"}}
}},
{"transform": [{"filter": "datum.x == 0"}],
"mark": {"type": "point", "opacity": 0, "size": 1},
"encoding": {
"x": {"field": "x", "type": "quantitative", "scale": {"domain": [0, 1.5], "nice": false, "zero": false},
"axis": {"orient": "top", "values": [0,0.1,0.2,0.3,0.4,0.5,0.6,0.7,0.8,0.9,1,1.1,1.2,1.3,1.4,1.5], "labels": false, "title": null, "domain": false, "grid": false, "tickSize": -7, "tickColor": "#333333", "tickWidth": 1.5}},
"y": {"field": "g", "type": "quantitative", "scale": {"domain": [0, 5], "nice": false},
"axis": {"orient": "right", "values": [0,0.2,0.4,0.6,0.8,1,1.2,1.4,1.6,1.8,2,2.2,2.4,2.6,2.8,3,3.2,3.4,3.6,3.8,4,4.2,4.4,4.6,4.8,5], "labels": false, "title": null, "domain": false, "grid": false, "tickSize": -7, "tickColor": "#333333", "tickWidth": 1.5}}
}}
],
"resolve": {"axis": {"x": "independent", "y": "independent"}}
}
]
}
